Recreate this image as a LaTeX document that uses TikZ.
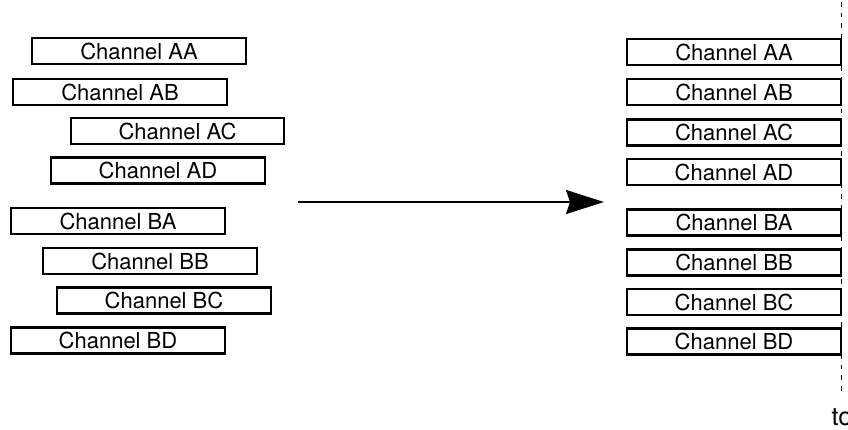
\documentclass[tikz,border=0pt]{standalone}
\usepackage{fontspec}
\setmainfont{TeX Gyre Heros}
\usetikzlibrary{arrows.meta}

\tikzset{every picture/.style={line width=0.75pt}}
\tikzset{
  chan/.style={draw, line width=1.6pt, minimum width=160pt, minimum height=19.5pt, inner sep=0pt,
    font=\fontsize{16.5}{19}\selectfont},
}

\begin{document}
\begin{tikzpicture}[x=0.75pt,y=0.75pt,yscale=-1,xscale=1]
	\useasboundingbox (0,0) rectangle (848,429);

	%Straight Lines [id:time line]
	\draw  [dash pattern={on 3.5pt off 4.5pt}]  (841,2) coordinate (tltop) -- (841,396) coordinate (tlbot) ;

	%Shape: Rectangle [id:left group A]
	\draw (139,51) node [chan] (laa) {Channel AA};
	\draw (120,92) node [chan] (lab) {Channel AB};
	\draw (177.5,131) node [chan] (lac) {Channel AC};
	\draw (158,170.5) node [chan] (lad) {Channel AD};
	%Shape: Rectangle [id:left group B]
	\draw (118,221) node [chan] (lba) {Channel BA};
	\draw (150,261) node [chan] (lbb) {Channel BB};
	\draw (164,300.5) node [chan] (lbc) {Channel BC};
	\draw (118,340.5) node [chan] (lbd) {Channel BD};

	%Shape: Rectangle [id:right group A]
	\draw (734,52) node [chan] (raa) {Channel AA};
	\draw (734,92) node [chan] (rab) {Channel AB};
	\draw (734,132.5) node [chan] (rac) {Channel AC};
	\draw (734,172) node [chan] (rad) {Channel AD};
	%Shape: Rectangle [id:right group B]
	\draw (734,222.5) node [chan] (rba) {Channel BA};
	\draw (734,262.5) node [chan] (rbb) {Channel BB};
	\draw (734,302) node [chan] (rbc) {Channel BC};
	\draw (734,341.5) node [chan] (rbd) {Channel BD};

	%Straight Lines [id:align arrow]
	\coordinate (arrfrom) at (298,202);
	\coordinate (arrto) at (604,202);
	\draw [line width=1.5pt, -{Stealth[length=28.5pt,width=18pt,inset=3pt]}]  (arrfrom) -- (arrto) ;

	% Text Node
	\draw (831,425) node [anchor=base west, inner sep=0pt, font=\fontsize{19}{22}\selectfont] (tlabel) {to};

\end{tikzpicture}
\end{document}
